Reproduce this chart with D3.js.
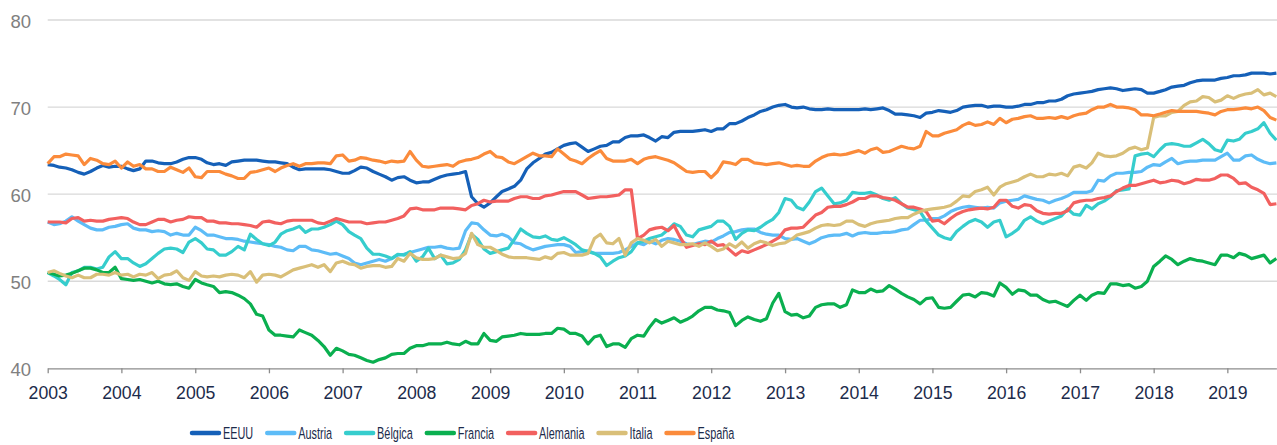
<!DOCTYPE html>
<html>
<head>
<meta charset="utf-8">
<script src="https://cdn.jsdelivr.net/npm/d3@7"></script>
<style>
  body { margin: 0; background: #fff; }
  svg { display: block; font-family: "Liberation Sans", Arial, sans-serif; }
</style>
</head>
<body>
<svg id="chart"></svg>
<script>
// monthly series, Jan 2003 .. Sep 2019 (one row per year)
const eeuu = [
  63.4, 63.3, 63.1, 63.0, 62.8, 62.5, 62.3, 62.6, 63.0, 63.3, 63.1, 63.2,
  63.2, 62.9, 62.7, 62.9, 63.8, 63.8, 63.6, 63.5, 63.5, 63.7, 64.0, 64.2,
  64.2, 64.0, 63.6, 63.4, 63.5, 63.3, 63.7, 63.8, 63.9, 63.9, 63.9, 63.8,
  63.7, 63.7, 63.6, 63.5, 63.1, 62.8, 62.9, 62.9, 62.9, 62.9, 62.8, 62.6,
  62.4, 62.4, 62.7, 63.1, 63.0, 62.6, 62.3, 62.0, 61.6, 61.9, 62.0, 61.6,
  61.3, 61.4, 61.4, 61.7, 62.0, 62.2, 62.3, 62.4, 62.6, 59.7, 58.9, 58.5,
  59.0, 59.7, 60.3, 60.6, 60.9, 61.6, 62.9, 63.6, 64.1, 64.6, 64.8, 65.2,
  65.6, 65.8, 65.9, 65.4, 64.9, 65.2, 65.5, 65.6, 66.0, 66.0, 66.5, 66.7,
  66.7, 66.8, 66.5, 66.1, 66.6, 66.5, 67.1, 67.2, 67.2, 67.2, 67.3, 67.4,
  67.2, 67.5, 67.5, 68.1, 68.1, 68.4, 68.8, 69.1, 69.5, 69.7, 70.0, 70.2,
  70.3, 70.0, 69.9, 70.0, 69.8, 69.7, 69.7, 69.8, 69.7, 69.7, 69.7, 69.7,
  69.7, 69.8, 69.7, 69.8, 69.9, 69.6, 69.2, 69.2, 69.1, 69.0, 68.8, 69.3,
  69.4, 69.6, 69.5, 69.4, 69.6, 70.0, 70.1, 70.2, 70.2, 70.0, 70.1, 70.1,
  70.0, 70.0, 70.1, 70.3, 70.3, 70.5, 70.5, 70.7, 70.7, 70.9, 71.3, 71.5,
  71.6, 71.7, 71.8, 72.0, 72.1, 72.2, 72.1, 71.9, 72.0, 72.1, 72.0, 71.6,
  71.6, 71.8, 72.0, 72.3, 72.4, 72.5, 72.8, 73.0, 73.1, 73.1, 73.1, 73.3,
  73.4, 73.6, 73.6, 73.7, 73.9, 73.9, 73.9, 73.8, 73.9
];
const austria = [
  56.8, 56.5, 56.6, 56.9, 57.4, 56.9, 56.5, 56.1, 55.9, 55.9, 56.2, 56.3,
  56.5, 56.6, 56.1, 55.9, 55.9, 55.7, 55.8, 55.7, 55.3, 55.5, 55.3, 55.3,
  56.2, 55.8, 55.3, 55.3, 55.1, 54.9, 54.9, 54.8, 54.6, 54.5, 54.4, 54.3,
  54.2, 54.0, 53.9, 53.6, 53.5, 54.0, 54.0, 53.6, 53.5, 53.3, 53.1, 53.2,
  52.9, 52.6, 52.1, 51.9, 52.1, 52.3, 52.5, 52.3, 52.6, 53.0, 53.1, 53.3,
  53.5, 53.7, 53.9, 53.9, 54.0, 53.8, 53.7, 53.8, 55.8, 56.7, 56.6, 55.9,
  55.3, 55.2, 55.4, 55.1, 54.4, 54.3, 53.9, 53.6, 53.8, 54.0, 54.1, 54.2,
  54.2, 54.0, 53.3, 53.4, 53.5, 53.2, 53.2, 53.2, 53.2, 53.3, 53.6, 54.0,
  54.4, 54.2, 54.6, 54.3, 54.7, 54.9, 54.8, 54.6, 54.3, 54.2, 54.4, 54.6,
  54.5, 54.9, 55.2, 55.6, 55.7, 55.9, 56.0, 56.0, 55.6, 55.4, 55.3, 55.3,
  54.9, 54.8, 54.9, 54.6, 54.3, 54.6, 55.0, 55.2, 55.3, 55.3, 55.5, 55.2,
  55.5, 55.6, 55.5, 55.5, 55.6, 55.6, 55.7, 55.9, 56.0, 56.5, 57.0, 57.0,
  57.2, 57.2, 57.5, 58.0, 58.3, 58.5, 58.6, 58.5, 58.4, 58.5, 58.4, 59.0,
  59.2, 59.3, 59.4, 59.8, 59.6, 59.4, 59.3, 59.0, 59.3, 59.5, 59.8, 60.2,
  60.2, 60.2, 60.4, 61.6, 61.5, 62.1, 62.4, 62.4, 62.5, 62.5, 62.6, 63.1,
  63.4, 63.3, 63.7, 64.1, 63.5, 63.7, 63.8, 63.8, 63.9, 63.9, 63.9, 64.3,
  64.7, 63.9, 63.9, 64.4, 64.5, 64.0, 63.7, 63.5, 63.6
];
const belgica = [
  51.0, 50.6, 50.2, 49.6, 51.0, 51.2, 51.6, 51.6, 51.4, 51.6, 52.8, 53.4,
  52.6, 52.6, 52.1, 51.7, 52.0, 52.6, 53.2, 53.7, 53.8, 53.7, 53.3, 54.5,
  54.9, 54.4, 53.7, 53.6, 53.0, 53.0, 53.4, 54.0, 53.6, 55.4, 54.8, 54.3,
  54.1, 54.5, 55.4, 55.8, 56.0, 56.3, 55.6, 56.0, 56.0, 56.2, 56.5, 56.9,
  56.5, 55.7, 55.3, 54.9, 53.8, 53.1, 53.1, 52.9, 52.6, 53.1, 53.0, 53.4,
  52.3, 52.8, 53.8, 52.6, 53.0, 52.0, 52.1, 52.5, 53.6, 55.4, 54.8, 53.7,
  53.2, 53.4, 53.6, 53.8, 54.8, 56.0, 55.5, 55.1, 55.0, 55.2, 54.8, 54.7,
  55.0, 54.6, 54.2, 53.6, 53.4, 53.2, 52.8, 51.8, 52.3, 52.7, 52.9, 53.4,
  54.4, 54.6, 54.9, 55.1, 55.3, 55.9, 56.6, 56.3, 55.3, 55.1, 55.9, 56.1,
  56.3, 56.9, 56.9, 56.3, 54.8, 55.5, 55.9, 55.8, 56.2, 56.7, 57.1, 57.9,
  59.5, 59.3, 58.5, 58.2, 59.1, 60.3, 60.7, 59.8, 58.9, 59.0, 59.3, 60.2,
  60.1, 60.1, 60.2, 59.9, 59.5, 59.3, 59.6, 58.9, 58.4, 58.2, 58.0, 56.9,
  56.1, 55.3, 55.0, 54.8, 55.7, 56.3, 56.8, 57.1, 56.8, 56.2, 56.8, 57.0,
  55.1, 55.5, 56.0, 57.0, 57.4, 56.9, 56.6, 56.9, 57.2, 57.5, 58.3, 57.7,
  57.6, 58.7, 58.3, 58.9, 59.2, 59.7, 60.4, 60.5, 60.6, 64.4, 64.6, 64.7,
  64.3, 65.1, 65.7, 65.8, 65.7, 65.5, 65.5, 65.9, 66.3, 65.8, 65.1, 64.9,
  66.2, 66.1, 66.3, 67.0, 67.2, 67.5, 68.2, 67.0, 66.2
];
const francia = [
  51.0, 50.8, 50.6, 50.7, 50.9, 51.2, 51.5, 51.5, 51.3, 51.0, 51.0, 51.6,
  50.3, 50.2, 50.1, 50.2, 50.0, 49.8, 50.0, 49.7, 49.6, 49.7, 49.4, 49.2,
  50.2, 49.8, 49.6, 49.4, 48.7, 48.8, 48.7, 48.4, 48.0, 47.4, 46.2, 46.0,
  44.4, 43.8, 43.8, 43.7, 43.6, 44.4, 44.1, 43.8, 43.2, 42.5, 41.5, 42.3,
  42.0, 41.6, 41.5, 41.2, 40.9, 40.7, 41.0, 41.2, 41.6, 41.7, 41.7, 42.3,
  42.6, 42.6, 42.8, 42.8, 42.8, 43.0, 42.8, 42.7, 43.1, 42.8, 42.8, 44.0,
  43.2, 43.1, 43.6, 43.7, 43.8, 44.0, 43.9, 43.9, 43.9, 44.0, 44.0, 44.6,
  44.5, 44.0, 44.0, 43.7, 42.8, 43.6, 43.8, 42.5, 42.8, 42.8, 42.4, 43.4,
  43.8, 43.7, 44.7, 45.6, 45.2, 45.5, 45.8, 45.3, 45.6, 46.0, 46.6, 47.0,
  47.0, 46.7, 46.6, 46.4, 44.9, 45.5, 45.9, 45.6, 45.4, 45.7, 47.5, 48.6,
  46.5, 46.1, 46.2, 45.8, 46.0, 47.0, 47.3, 47.4, 47.4, 47.0, 47.3, 49.0,
  48.7, 48.7, 49.1, 48.8, 48.9, 49.5, 49.1, 48.6, 48.2, 47.9, 47.4, 48.0,
  48.1, 47.0, 46.9, 47.0, 47.7, 48.4, 48.5, 48.2, 48.7, 48.6, 48.3, 49.8,
  49.3, 48.5, 49.0, 48.9, 48.4, 48.4, 47.9, 47.6, 47.7, 47.4, 47.1, 47.8,
  48.4, 47.8, 48.4, 48.7, 48.6, 49.7, 49.7, 49.5, 49.6, 49.2, 49.4, 50.0,
  51.7, 52.3, 52.9, 52.5, 51.9, 52.3, 52.6, 52.4, 52.3, 52.1, 51.9, 53.0,
  53.0, 52.7, 53.2, 53.0, 52.6, 52.8, 53.0, 52.1, 52.6
];
const alemania = [
  56.8, 56.8, 56.8, 56.7, 57.2, 57.3, 56.9, 57.0, 56.9, 56.9, 57.1, 57.2,
  57.3, 57.2, 56.8, 56.5, 56.5, 56.8, 57.1, 57.1, 56.8, 57.0, 57.1, 57.4,
  57.3, 57.3, 56.9, 56.9, 56.7, 56.7, 56.6, 56.6, 56.5, 56.4, 56.2, 56.8,
  56.9, 56.7, 56.6, 56.9, 57.0, 57.0, 57.0, 57.0, 56.7, 56.6, 56.9, 57.2,
  57.0, 56.8, 56.8, 56.8, 56.6, 56.7, 56.8, 56.8, 57.0, 57.2, 57.5, 58.3,
  58.4, 58.2, 58.2, 58.2, 58.4, 58.4, 58.4, 58.3, 58.2, 58.7, 58.9, 59.3,
  59.1, 59.2, 59.2, 59.2, 59.5, 59.7, 59.7, 59.5, 59.5, 59.8, 59.9, 60.1,
  60.3, 60.3, 60.3, 59.9, 59.5, 59.6, 59.7, 59.7, 59.8, 59.9, 60.5, 60.5,
  54.9, 55.3, 55.9, 56.1, 56.2, 55.8, 56.4, 55.0, 53.9, 54.1, 54.3, 54.2,
  54.6, 54.1, 54.2, 53.6, 53.0, 53.5, 53.3, 53.6, 53.9, 54.2, 54.6, 55.0,
  55.9, 56.1, 56.1, 56.2, 56.9, 57.6, 57.9, 58.5, 58.6, 58.6, 58.8, 59.1,
  59.5, 59.5, 59.8, 59.8, 59.6, 59.5, 59.3, 58.9, 58.5, 58.5, 58.3, 58.0,
  56.9, 57.0, 56.6, 57.2, 57.7, 58.0, 58.2, 58.3, 58.4, 58.3, 58.5, 59.3,
  59.3, 58.6, 58.4, 58.8, 58.7, 58.1, 57.8, 57.7, 57.8, 57.8, 58.1, 59.0,
  59.2, 59.3, 59.3, 59.5, 59.6, 59.8, 60.3, 60.7, 61.0, 61.0, 61.2, 61.4,
  61.6, 61.3, 61.4, 61.6, 61.5, 61.2, 61.4, 61.7, 61.6, 61.6, 61.8, 62.2,
  62.2, 61.8, 61.2, 61.3, 60.8, 60.5, 60.1, 58.8, 58.9
];
const italia = [
  51.0, 51.2, 50.9, 50.6, 50.4, 50.7, 50.4, 50.4, 50.8, 50.8, 50.7, 51.0,
  50.7, 50.8, 50.5, 50.8, 50.7, 51.0, 50.3, 50.7, 50.8, 51.2, 50.4, 50.1,
  51.1, 50.6, 50.5, 50.6, 50.5, 50.7, 50.8, 50.7, 50.4, 51.1, 49.9, 50.7,
  50.8, 50.7, 50.5, 50.9, 51.3, 51.5, 51.7, 51.9, 51.6, 51.9, 51.1, 52.1,
  52.3, 52.0, 51.9, 51.5, 51.7, 51.8, 51.8, 51.6, 51.7, 52.6, 52.3, 53.2,
  52.7, 52.5, 52.5, 52.6, 53.0, 52.8, 52.6, 52.7, 53.2, 55.5, 54.2, 53.9,
  53.9, 53.5, 53.1, 52.8, 52.7, 52.7, 52.7, 52.6, 52.5, 52.8, 52.6, 53.2,
  53.3, 53.0, 53.0, 53.0, 53.2, 54.9, 55.4, 54.4, 54.3, 54.9, 53.0, 54.4,
  54.9, 54.7, 54.4, 54.8, 54.0, 54.6, 54.4, 54.2, 54.2, 54.3, 54.0, 54.4,
  54.0, 53.5, 53.7, 54.3, 53.9, 54.5, 53.8, 54.3, 54.6, 54.4, 54.1, 54.3,
  54.4, 54.8, 55.3, 55.5, 55.7, 56.1, 56.4, 56.5, 56.4, 56.5, 56.9, 56.9,
  56.5, 56.3, 56.6, 56.8, 56.9, 57.0, 57.2, 57.3, 57.3, 57.7, 58.0, 58.2,
  58.3, 58.4, 58.5, 58.7, 59.2, 59.8, 59.7, 60.3, 60.5, 60.8, 59.9, 60.8,
  61.2, 61.4, 61.6, 62.0, 62.3, 62.0, 62.0, 62.3, 62.2, 62.4, 62.1, 63.1,
  63.3, 63.0, 63.6, 64.7, 64.4, 64.3, 64.4, 64.7, 65.2, 65.4, 65.1, 65.3,
  68.8, 69.0, 69.0, 69.4, 69.5, 70.2, 70.6, 70.7, 71.2, 71.1, 70.6, 70.8,
  71.3, 71.0, 71.3, 71.5, 71.6, 72.0, 71.4, 71.6, 71.2
];
const espana = [
  63.5, 64.3, 64.3, 64.6, 64.5, 64.4, 63.4, 64.1, 63.9, 63.5, 63.4, 63.8,
  63.0, 63.7, 63.2, 63.4, 62.9, 62.9, 62.6, 62.6, 63.1, 62.8, 62.5, 63.0,
  62.0, 61.9, 62.6, 62.6, 62.6, 62.3, 62.1, 61.8, 61.8, 62.5, 62.6, 62.8,
  63.0, 62.6, 63.0, 63.3, 63.5, 63.2, 63.5, 63.5, 63.6, 63.6, 63.5, 64.4,
  64.5, 63.8, 63.9, 64.2, 64.1, 63.9, 63.8, 63.6, 63.8, 63.7, 63.8, 64.9,
  63.9, 63.2, 63.1, 63.2, 63.3, 63.4, 63.2, 63.7, 63.9, 64.0, 64.2, 64.6,
  64.9, 64.3, 64.2, 63.7, 63.5, 63.9, 64.3, 64.7, 64.4, 64.4, 64.3, 65.2,
  64.6, 64.0, 63.8, 63.5, 64.1, 64.6, 65.0, 64.1, 63.8, 63.8, 63.8, 64.0,
  63.5, 64.0, 64.2, 64.3, 64.1, 63.9, 63.6, 63.1, 62.6, 62.5, 62.6, 62.6,
  61.9, 62.6, 63.7, 63.6, 63.4, 64.0, 64.0, 63.6, 63.5, 63.4, 63.5, 63.6,
  63.4, 63.2, 63.3, 63.2, 63.2, 63.8, 64.2, 64.5, 64.6, 64.5, 64.6, 64.8,
  65.0, 64.7, 65.1, 65.3, 64.8, 64.9, 65.2, 65.5, 65.3, 65.2, 65.5, 67.2,
  66.7, 66.7, 67.0, 67.2, 67.4, 67.9, 68.2, 67.9, 68.0, 68.3, 68.0, 68.7,
  68.2, 68.6, 68.7, 68.9, 69.0, 68.7, 68.7, 68.8, 68.7, 68.9, 68.7, 69.0,
  69.2, 69.3, 69.7, 70.0, 70.0, 70.3, 70.0, 70.0, 69.9, 69.7, 69.1, 69.1,
  69.0, 69.2, 69.4, 69.6, 69.5, 69.5, 69.5, 69.5, 69.4, 69.3, 69.1, 69.5,
  69.7, 69.7, 69.8, 69.9, 69.8, 70.0, 69.6, 68.8, 68.5
];

const seriesNames = ["EEUU", "Austria", "Bélgica", "Francia", "Alemania", "Italia", "España"];
const seriesValues = [eeuu, austria, belgica, francia, alemania, italia, espana];
const colors = ["#1560b8", "#5dbcf7", "#36cdcd", "#0aaf4f", "#f2605f", "#d9bf78", "#fb8b3b"];
const yTicks = [40, 50, 60, 70, 80];

const months = d3.timeMonth.range(new Date(2003, 0, 1), new Date(2019, 9, 1));

const width = 1277, height = 445;
const svg = d3.select("#chart").attr("width", width).attr("height", height);

const x = d3.scaleTime()
  .domain([months[0], months[months.length - 1]])
  .range([47.7, 1276.4]);
const y = d3.scaleLinear().domain([40, 80]).range([368.3, 20]);

// gridlines
svg.append("g")
  .selectAll("line")
  .data(yTicks.filter(d => d > 40))
  .join("line")
  .attr("x1", x.range()[0])
  .attr("x2", width)
  .attr("y1", d => y(d))
  .attr("y2", d => y(d))
  .attr("stroke", "#d9d9d9")
  .attr("stroke-width", 1.3);

// y labels
svg.append("g")
  .selectAll("text")
  .data(yTicks)
  .join("text")
  .attr("x", 31)
  .attr("y", d => y(d) + 1.6)
  .attr("dy", "0.35em")
  .attr("text-anchor", "end")
  .style("font-size", "18.5px")
  .style("fill", "#808080")
  .text(d => d);

// x axis
const gx = svg.append("g")
  .attr("transform", "translate(0," + y(40) + ")")
  .call(d3.axisBottom(x)
    .ticks(d3.timeYear.every(1))
    .tickFormat(d3.timeFormat("%Y"))
    .tickSize(5)
    .tickSizeOuter(0));
gx.select(".domain").attr("stroke", "#8c8c8c").attr("stroke-width", 1.3);
gx.selectAll(".tick line").attr("stroke", "#8c8c8c").attr("stroke-width", 1.3);
gx.selectAll(".tick text")
  .attr("y", 17)
  .attr("transform", "scale(0.93,1)")
  .style("font-size", "19px")
  .style("font-family", "'Liberation Sans', Arial, sans-serif")
  .style("fill", "#1c2b4b");

// lines
const line = d3.line()
  .x((d, i) => x(months[i]))
  .y(d => y(d));

svg.append("g")
  .selectAll("path")
  .data(seriesValues)
  .join("path")
  .attr("fill", "none")
  .attr("stroke", (d, i) => colors[i])
  .attr("stroke-width", 3.2)
  .attr("stroke-linejoin", "round")
  .attr("d", line);

// legend
const legend = svg.append("g");
let lx = 190;
const ly = 433;
seriesNames.forEach((name, i) => {
  legend.append("line")
    .attr("x1", lx + 2).attr("x2", lx + 29)
    .attr("y1", ly).attr("y2", ly)
    .attr("stroke", colors[i])
    .attr("stroke-width", 4.5)
    .attr("stroke-linecap", "round");
  const t = legend.append("text")
    .attr("transform", "translate(" + (lx + 33) + "," + (ly + 6) + ") scale(0.66,1)")
    .style("font-size", "16.5px")
    .style("fill", "#1c2b4b")
    .text(name);
  lx += 33 + t.node().getComputedTextLength() * 0.66 + 12;
});
</script>
</body>
</html>
